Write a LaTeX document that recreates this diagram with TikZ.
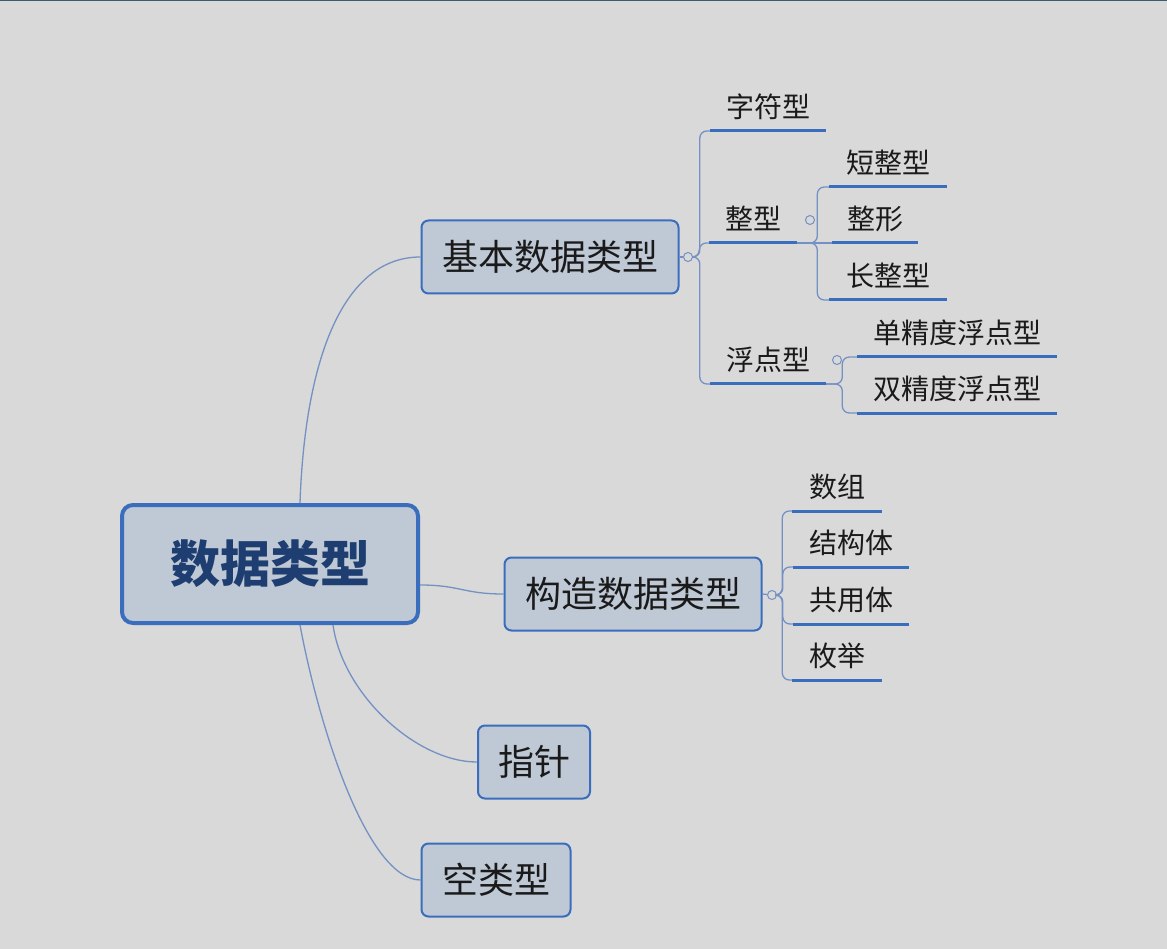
\documentclass[tikz,border=0pt]{standalone}
\usepackage{fontspec}
\setmainfont{Noto Sans CJK SC}
\definecolor{bgcol}{HTML}{D9D9D9}
\definecolor{boxfill}{HTML}{BFC8D5}
\definecolor{boxline}{HTML}{3A6EBC}
\definecolor{linkcol}{HTML}{7391C2}
\definecolor{rootink}{HTML}{1E3D70}
\definecolor{ink}{HTML}{1A1A1A}
\definecolor{frame}{HTML}{3B5C6C}
\begin{document}
\begin{tikzpicture}[x=1pt,y=-1pt,
        topic/.style={draw=boxline,fill=boxfill,line width=2pt,rounded corners=7pt,minimum height=73pt,inner sep=0pt,text=ink,font=\fontsize{36}{36}\selectfont},
        root/.style={topic,line width=4pt,rounded corners=11pt,text=rootink,font=\fontsize{50}{50}\selectfont\bfseries},
        leaf/.style={inner xsep=0pt,inner ysep=13pt,text height=24pt,text depth=0pt,anchor=south,text=ink,font=\fontsize{28}{28}\selectfont},
        link/.style={draw=linkcol,line width=1.3pt,rounded corners=7pt},
        uline/.style={draw=boxline,line width=3pt},
        knob/.style={circle,draw=linkcol,fill=bgcol,line width=1pt,inner sep=0pt,minimum size=9pt}]
        \useasboundingbox (0,0) rectangle (1167,949);
        \fill[bgcol] (0,0) rectangle (1167,949);
        \draw[frame,line width=2pt] (0,0) -- (1167,0);
        \node[root,minimum width=296pt,minimum height=118pt] (data) at (270,564) {数据类型};
        \node[topic,minimum width=257pt] (basic) at (550,257) {基本数据类型};
        \node[topic,minimum width=257pt] (built) at (633,594) {构造数据类型};
        \node[topic,minimum width=112pt] (ptr) at (534,762) {指针};
        \node[topic,minimum width=149pt] (void) at (496,880) {空类型};
        \node[leaf,minimum width=116pt] (char) at (768,131) {字符型};
        \node[leaf,minimum width=87pt] (int) at (753,243) {整型};
        \node[leaf,minimum width=117pt] (short) at (888,187) {短整型};
        \node[leaf,minimum width=85pt] (plain) at (875,243) {整形};
        \node[leaf,minimum width=117pt] (long) at (888,300) {长整型};
        \node[leaf,minimum width=116pt] (float) at (768,384) {浮点型};
        \node[leaf,minimum width=199pt] (single) at (957,357) {单精度浮点型};
        \node[leaf,minimum width=199pt] (double) at (957,413) {双精度浮点型};
        \node[leaf,minimum width=89pt] (array) at (837,511) {数组};
        \node[leaf,minimum width=116pt] (struct) at (851,567) {结构体};
        \node[leaf,minimum width=116pt] (union) at (851,624) {共用体};
        \node[leaf,minimum width=89pt] (enum) at (837,680) {枚举};
        \draw[link] ([xshift=30pt]data.north) .. controls +(5,-145) and +(-77,0) .. (basic.west);
        \draw[link] ([yshift=-21pt]data.east) .. controls +(40,0) and +(-40,0) .. (built.west);
        \draw[link] ([xshift=63pt]data.south) .. controls +(10,70) and +(-60,0) .. (ptr.west);
        \draw[link] ([xshift=30pt]data.south) .. controls +(20,107) and +(-52,0) .. (void.west);
        \node[knob] (k1) at (688,257) {};
        \node[knob] (k2) at (810,220) {};
        \node[knob] (k3) at (837,360) {};
        \node[knob] (k4) at (772,595) {};
        \draw[link] (basic.east) -- (k1);
        \draw[link] (built.east) -- (k4);
        \foreach \leaf in {char,int,float}
            \draw[link] (k1.east) -| ([xshift=-10pt]\leaf.south west) -- (\leaf.south west);
        \draw[link] (int.south east) -- (plain.south west);
        \foreach \leaf in {short,long}
            \draw[link] (int.south east) -| ([xshift=-12pt]\leaf.south west) -- (\leaf.south west);
        \foreach \leaf in {single,double}
            \draw[link] (float.south east) -| ([xshift=-15pt]\leaf.south west) -- (\leaf.south west);
        \foreach \leaf in {array,struct,union,enum}
            \draw[link] (k4.east) -| ([xshift=-10pt]\leaf.south west) -- (\leaf.south west);
        \foreach \leaf in {char,int,short,plain,long,float,single,double,array,struct,union,enum}
            \draw[uline] (\leaf.south west) -- (\leaf.south east);
    \end{tikzpicture}
\end{document}
